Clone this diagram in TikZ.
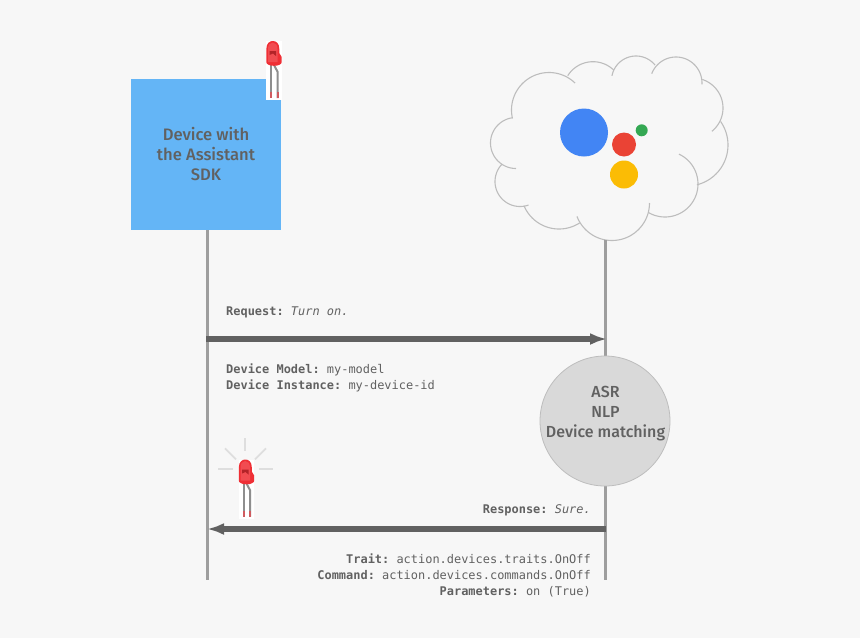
\documentclass[tikz,border=0pt]{standalone}
\usepackage{fontspec}
\setmainfont{Open Sans}
\setmonofont{DejaVu Sans Mono}
\newfontfamily\labelfont{Fira Sans Medium}
\usetikzlibrary{arrows.meta}
\definecolor{pagebg}{HTML}{F7F7F7}
\definecolor{boxblue}{HTML}{64B5F6}
\definecolor{inktext}{HTML}{616161}
\definecolor{lifegrey}{HTML}{9E9E9E}
\definecolor{cloudgrey}{HTML}{BDBDBD}
\definecolor{ledred}{HTML}{EF2F35}
\tikzset{
  lifeline/.style={draw=lifegrey,line width=3pt},
  message/.style={draw=inktext,line width=5.4pt,-{Latex[length=17pt,width=12pt]}},
  cloudline/.style={draw=cloudgrey,line width=1.1pt},
  ray/.style={draw=black!13,line width=1.8pt},
  dot/.style={circle,inner sep=0pt},
  monoline/.style={text=inktext,inner sep=0pt,font=\ttfamily\fontsize{11.95}{14}\selectfont},
  bigtext/.style={text=inktext,align=center,font=\labelfont\fontsize{16}{20}\selectfont},
  boxtext/.style={text=inktext,align=center,font=\labelfont\fontsize{16.6}{20}\selectfont},
  led/.pic={
    \fill[white] (0,0) rectangle (15.7,59);
    \draw[lifegrey!90!black,line width=2pt] (5,24) -- (5,57);
    \draw[lifegrey!90!black,line width=2pt] (8,24) -- (11.7,31) -- (11.7,57);
    \draw[ledred!60!lifegrey,line width=2pt] (5,51) -- (5,57);
    \draw[ledred!60!lifegrey,line width=2pt] (11.7,51) -- (11.7,57);
    \fill[ledred] (0.3,21) -- (0.3,8) .. controls (0.3,2) and (4,0) .. (6.7,0)
      .. controls (10,0) and (13.3,2) .. (13.3,8) -- (13.3,12) -- (15.7,16) -- (15.7,21)
      .. controls (15.7,23) and (13,24.8) .. (8,24.8) .. controls (3,24.8) and (0.3,23) .. (0.3,21) -- cycle;
    \fill[white,opacity=.14] (2,21) -- (2,8) .. controls (2,4) and (4,1.5) .. (6.7,1.5)
      .. controls (9.5,1.5) and (11.5,4) .. (11.5,8) -- (11.5,21) -- cycle;
    \fill[ledred!75!black] (3.5,10) -- (10,10) -- (10,15) -- (7,12.5) -- (3.5,14) -- cycle;
  }
}
\begin{document}
\begin{tikzpicture}[x=1pt,y=-1pt]
  \useasboundingbox (0,0) rectangle (860,638);
  \fill[pagebg] (0,0) rectangle (860,638);
  % cloud outline, one arc per lobe
  \foreach \cx/\cy/\rad/\sa/\sb in {
      549/110/37.5/167/314, 593/91.5/29.8/212/314, 636/80.5/24.5/191/321,
      676/83/26/201/363, 693/108/30/288/411, 687/145/41/325/436,
      665/184/33/-65/120, 612/203/37.5/0/159, 559/191/38/57/157,
      520/181.5/25/70/224, 516/143/25.5/90/262} {
    \draw[cloudline] plot[domain=\sa:\sb,samples=40] ({\cx+\rad*cos(\x)},{\cy+\rad*sin(\x)});
  }
  \node[dot,fill={rgb,255:red,66;green,133;blue,244},minimum size=48pt] (bigdot) at (584,132.5) {};
  \node[dot,fill={rgb,255:red,234;green,67;blue,53},minimum size=24pt] (reddot) at (624,144.5) {};
  \node[dot,fill={rgb,255:red,251;green,188;blue,5},minimum size=28pt] (yellowdot) at (624,174.5) {};
  \node[dot,fill={rgb,255:red,52;green,168;blue,83},minimum size=12pt] (greendot) at (641.7,130.3) {};
  % device box
  \node[fill=boxblue,minimum width=150pt,minimum height=151pt,inner sep=0pt,boxtext] (device) at (206,154.5)
    {Device with\\the Assistant\\SDK};
  \pic at (266,41) {led};
  % lifelines
  \coordinate (cloudfoot) at (605,240);
  \coordinate (deviceend) at (207,580);
  \coordinate (cloudend) at (605,580);
  \coordinate (devicetop) at (207,230);
  \draw[lifeline] (devicetop) -- (deviceend);
  \draw[lifeline] (cloudfoot) -- (cloudend);
  % messages
  \coordinate (reqstart) at (206,339);
  \coordinate (reqend) at (607,339);
  \coordinate (respstart) at (606,529);
  \coordinate (respend) at (207,529);
  \draw[message] (reqstart) -- (reqend);
  \draw[message] (respstart) -- (respend);
  \node[circle,fill=black!15,draw=cloudgrey,line width=.8pt,minimum size=130pt,inner sep=0pt] (matching) at (605,421) {};
  \node[bigtext] (matchingtext) at (605.5,413.5) {ASR\\NLP\\Device matching};
  % request texts
  \node[monoline,anchor=base west] (request) at (226,315) {\textbf{Request:} \textit{Turn on.}};
  \node[monoline,anchor=base west] (model) at (226,373) {\textbf{Device Model:} my-model};
  \node[monoline,anchor=base west] (instance) at (226,389) {\textbf{Device Instance:} my-device-id};
  % response texts
  \node[monoline,anchor=base east] (response) at (591,513) {\textbf{Response:} \textit{Sure.}};
  \node[monoline,anchor=base east] (trait) at (591,563) {\textbf{Trait:} action.devices.traits.OnOff};
  \node[monoline,anchor=base east] (command) at (591,579) {\textbf{Command:} action.devices.commands.OnOff};
  \node[monoline,anchor=base east] (parameters) at (591,595) {\textbf{Parameters:} on (True)};
  % lit led
  \pic at (238.5,459.5) {led};
  \draw[ray] (245,438.3) -- (245,450.7);
  \draw[ray] (225,448.3) -- (236,459.3);
  \draw[ray] (266,448.3) -- (255,459.3);
  \draw[ray] (218.3,469) -- (233.3,469);
  \draw[ray] (259,469) -- (272.7,469);
\end{tikzpicture}
\end{document}
